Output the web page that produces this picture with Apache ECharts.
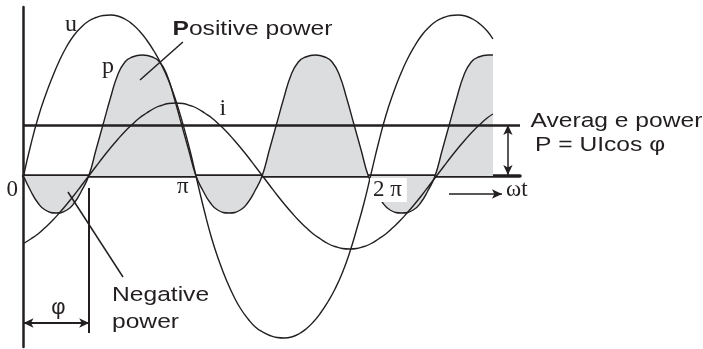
<!DOCTYPE html>
<html>
<head>
<meta charset="utf-8">
<script src="https://cdn.jsdelivr.net/npm/echarts@6/dist/echarts.min.js"></script>
<style>
html, body { margin: 0; padding: 0; background: #fff; }
#main { width: 703px; height: 349px; }
</style>
</head>
<body>
<div id="main"></div>
<script>
// phase angle wt in degrees, curve heights
var angle = [0, 7.5, 15, 22.5, 30, 37.5, 45, 52.5, 60, 67.5,
  75, 82.5, 90, 97.5, 105, 112.5, 120, 127.5, 135, 142.5,
  150, 157.5, 165, 172.5, 180, 187.5, 195, 202.5, 210, 217.5,
  225, 232.5, 240, 247.5, 255, 262.5, 270, 277.5, 285, 292.5,
  300, 307.5, 315, 322.5, 330, 337.5, 345, 352.5, 360, 367.5,
  375, 382.5, 390, 397.5, 405, 412.5, 420, 427.5, 435, 442.5,
  450, 457.5, 465, 472.5, 480, 486];
var uValue = [0, 31, 58, 80, 99, 116, 130, 141, 149, 155,
  158.5, 160.5, 161, 160, 157, 152, 145, 136, 125, 112,
  96, 76, 52, 25, -6, -36, -63, -85, -104, -120,
  -133, -143, -151, -156, -159.5, -161.5, -162, -161, -158, -153,
  -146, -137, -126, -113, -97, -77, -53, -27, 3, 33,
  60, 82, 101, 117, 130, 141, 149, 155, 158.5, 160.5,
  161, 160, 157, 152, 145, 137];
var iValue = [-67.5, -63, -58, -51.5, -44.5, -36.5, -28, -19, -9.5, 0,
  9.5, 19, 28, 36.5, 44.5, 51.5, 58, 63, 67.5, 70.5,
  72.5, 73, 72.5, 70.5, 67.5, 63, 58, 51.5, 44.5, 36.5,
  28, 19, 9.5, 0, -9.5, -19, -28, -36.5, -44.5, -51.5,
  -58, -63, -67.5, -70.5, -72.5, -73, -72.5, -70.5, -67.5, -63,
  -58, -51.5, -44.5, -36.5, -28, -19, -9.5, 0, 9.5, 19,
  28, 36.5, 44.5, 51.5, 58, 62];
var pAngle = [0, 7.5, 15, 22.5, 33.75, 45, 52.5, 60, 67.5,
  75, 82.5, 90, 97.5, 105, 112.5, 123, 133.5, 141, 148.5, 156, 163.5, 171, 178.6,
  186, 193.5, 201, 212.8, 224.5, 232, 239.5, 247,
  254.5, 262, 269.5, 277, 284.5, 292, 302, 312, 319.5, 327, 334.5, 342, 349.5, 357,
  364.5, 372, 379.5, 391.5, 403.5, 411, 418.5, 426,
  433.5, 441, 448.5, 456, 463.5, 471, 481.5, 486];
var pValue = [0, -15, -27, -34, -37, -34, -27, -15, 0,
  26, 52, 78, 101, 114, 119, 121, 119, 114, 101, 78, 52, 26, 0,
  -15, -27, -34, -37, -34, -27, -15, 0,
  26, 52, 78, 101, 114, 119, 121, 119, 114, 101, 78, 52, 26, 0,
  -15, -27, -34, -37, -34, -27, -15, 0,
  26, 52, 78, 101, 114, 119, 121, 121];
var avgPower = 51;

var ink = '#231f20';
var sans = '"Liberation Sans", Arial, sans-serif';
var serif = '"Liberation Serif", "Times New Roman", serif';

var uData = angle.map(function (a, k) { return [a, uValue[k]]; });
var iData = angle.map(function (a, k) { return [a, iValue[k]]; });
var pData = pAngle.map(function (a, k) { return [a, pValue[k]]; });

function sansText(str, x, y) {
    return {
        type: 'text', x: x, y: y, z: 100, scaleX: 1.2,
        style: { text: str, fill: ink, fontSize: 20.5, fontFamily: sans, align: 'left', verticalAlign: 'middle' }
    };
}
function serifText(str, x, y, size) {
    return {
        type: 'text', x: x, y: y, z: 100,
        style: { text: str, fill: ink, fontSize: size || 23, fontFamily: serif, align: 'left', verticalAlign: 'middle' }
    };
}
function seg(a, b, s1, s2, w) {
    return [
        { coord: a, symbol: s1 || 'none', lineStyle: { width: w || 1.5 } },
        { coord: b, symbol: s2 || 'none' }
    ];
}

var chart = echarts.init(document.getElementById('main'));
var option = {
    animation: false,
    grid: { left: 23.5, right: 183, top: 7, bottom: 2 },
    xAxis: {
        type: 'value', min: 0, max: 514,
        axisLine: { show: true, onZero: true, lineStyle: { color: ink, width: 3.5 } },
        axisTick: { show: false }, axisLabel: { show: false }, splitLine: { show: false }
    },
    yAxis: {
        type: 'value', min: -171, max: 169,
        axisLine: { show: true, lineStyle: { color: ink, width: 2.5 } },
        axisTick: { show: false }, axisLabel: { show: false }, splitLine: { show: false }
    },
    series: [
        {
            name: 'p', type: 'line', data: pData, smooth: true, symbol: 'none', z: 2,
            lineStyle: { color: ink, width: 1.4 },
            areaStyle: { color: '#dcdddf', opacity: 1 }
        },
        {
            name: 'u', type: 'line', data: uData, smooth: true, symbol: 'none', z: 3,
            lineStyle: { color: ink, width: 1.4 },
            markLine: {
                silent: true,
                symbol: 'none',
                symbolSize: [7, 10],
                label: { show: false },
                lineStyle: { color: ink, width: 1.5, type: 'solid' },
                emphasis: { disabled: true },
                data: [
                    { yAxis: avgPower, lineStyle: { width: 2.5 } },
                    seg([68, -12], [68, -157], 'none', 'none', 2),
                    seg([0, -147], [68, -147], 'arrow', 'arrow', 2),
                    seg([46, -16], [103, -101]),
                    seg([120.6, 96], [165, 134]),
                    seg([501.5, avgPower], [501.5, 1], 'arrow', 'arrow'),
                    seg([440.5, -18], [495.3, -18], 'none', 'arrow')
                ]
            }
        },
        {
            name: 'i', type: 'line', data: iData, smooth: true, symbol: 'none', z: 3,
            lineStyle: { color: ink, width: 1.4 }
        }
    ],
    graphic: [
        {
            type: 'text', x: 172.5, y: 29.6, z: 100, scaleX: 1.2,
            style: {
                text: '{b|P}{n|ositive power}', fill: ink, fontSize: 20.5, fontFamily: sans,
                align: 'left', verticalAlign: 'middle',
                rich: {
                    b: { fontWeight: 'bold', fontSize: 20.5, fontFamily: sans, fill: ink },
                    n: { fontSize: 20.5, fontFamily: sans, fill: ink }
                }
            }
        },
        sansText('Negative', 112, 295),
        sansText('power', 112, 322),
        sansText('Averag e power', 530.5, 121),
        sansText('P = UIcos φ', 535, 145),
        {
            type: 'text', x: 58.5, y: 308, z: 100,
            style: { text: 'φ', fill: ink, fontSize: 22, fontFamily: sans, align: 'center', verticalAlign: 'middle' }
        },
        serifText('u', 65, 25, 24),
        serifText('p', 102, 67, 24),
        serifText('i', 219.5, 109, 24),
        serifText('0', 6.5, 190),
        serifText('π', 177, 187),
        {
            type: 'text', x: 370, y: 190, z: 100,
            style: {
                text: '2 π', fill: ink, fontSize: 23, fontFamily: serif, lineHeight: 24,
                align: 'left', verticalAlign: 'middle',
                backgroundColor: '#fff', padding: [0, 5, 0, 3]
            }
        },
        serifText('ωt', 506, 190)
    ]
};
chart.setOption(option);
</script>
</body>
</html>
